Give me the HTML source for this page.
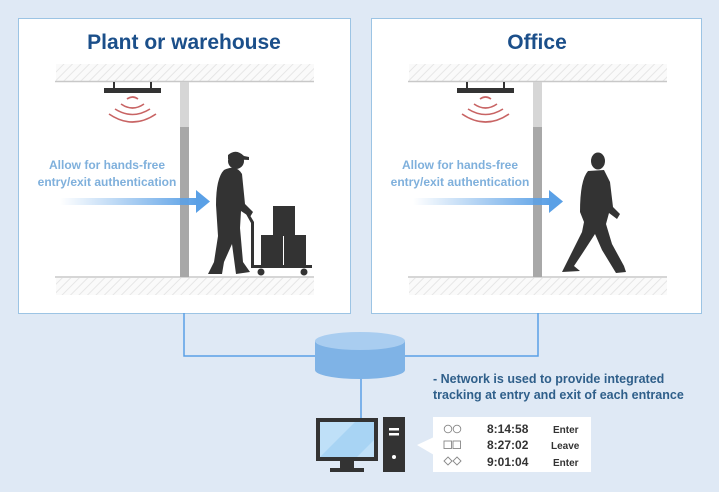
<!DOCTYPE html>
<html><head><meta charset="utf-8"><style>
body{margin:0;background:#dfe9f5;}
svg{display:block}
text{font-family:"Liberation Sans",sans-serif;font-weight:bold}
</style></head><body>
<svg width="719" height="492" viewBox="0 0 719 492" xmlns="http://www.w3.org/2000/svg">
<defs>
<pattern id="h" width="6" height="6" patternUnits="userSpaceOnUse" patternTransform="rotate(45)">
<rect width="6" height="6" fill="#fafafa"/><line x1="0" y1="0" x2="0" y2="6" stroke="#e6e6e6" stroke-width="2"/></pattern>
<linearGradient id="ag" x1="0" x2="1"><stop offset="0" stop-color="#5aa0e6" stop-opacity="0"/><stop offset="1" stop-color="#5aa0e6"/></linearGradient>
<g id="scene">
<rect x="56" y="64" width="258" height="17" fill="url(#h)"/>
<line x1="55" y1="81.5" x2="314" y2="81.5" stroke="#c8c8c8" stroke-width="1.5"/>
<rect x="56" y="278" width="258" height="17" fill="url(#h)"/>
<line x1="55" y1="277" x2="314" y2="277" stroke="#c8c8c8" stroke-width="1.5"/>
<rect x="113" y="82" width="2" height="8" fill="#333"/><rect x="150" y="82" width="2" height="8" fill="#333"/>
<rect x="104" y="88" width="57" height="5" fill="#333"/>
<g fill="none" stroke="#c86464" stroke-width="1.6">
<path d="M127 99 Q132.5 95 138 99"/><path d="M121 104 Q132.5 112 144 104"/><path d="M115 109 Q132.5 120 150 109"/><path d="M109 114 Q132.5 130 156 114"/>
</g>
<rect x="180" y="82" width="9" height="45" fill="#d6d6d6"/>
<rect x="180" y="127" width="9" height="150" fill="#a8a8a8"/>
<rect x="60" y="198" width="138" height="7" fill="url(#ag)"/>
<path d="M196 190 L210 201.5 L196 213 Z" fill="#5aa0e6"/>
<text x="107" y="169" font-size="12" fill="#7fb0dc" text-anchor="middle">Allow for hands-free</text>
<text x="107" y="186" font-size="12" fill="#7fb0dc" text-anchor="middle">entry/exit authentication</text>
</g>
</defs>
<rect x="18.5" y="18.5" width="332" height="295" fill="#fff" stroke="#9cc4e4"/>
<rect x="371.5" y="18.5" width="330" height="295" fill="#fff" stroke="#9cc4e4"/>
<text x="184" y="49" font-size="21" fill="#1b4f8a" text-anchor="middle">Plant or warehouse</text>
<text x="537" y="49" font-size="21" fill="#1b4f8a" text-anchor="middle">Office</text>
<use href="#scene"/>
<use href="#scene" transform="translate(353,0)"/>
<!-- worker -->
<g fill="#333">
<circle cx="236" cy="161" r="8"/><path d="M228 155 Q236 148 244 156 L249 157 L249 160 L228 159Z"/>
<path d="M224 170 Q236 164 242 174 L245 204 L253 212 L250 217 L241 211 L240 228 L243 262 L250 272 L236 274 L232 244 L224 262 L222 274 L208 274 L214 262 L218 236 L216 205 Q216 178 224 170Z"/>
<rect x="273" y="206" width="22" height="30"/><rect x="261" y="235" width="22" height="30"/><rect x="284" y="235" width="22" height="30"/>
<path d="M248 212 L254 222 L254 265 L312 265 L312 268 L251 268 L251 223 L246 214Z"/>
<circle cx="261" cy="272" r="3.5"/><circle cx="304" cy="272" r="3.5"/>
</g>
<!-- walking man -->
<g fill="#333">
<ellipse cx="598" cy="161" rx="7" ry="8.5"/>
<path d="M588 171 L604 170 L610 182 L613 207 L620 214 L617 219 L609 213 L606 224 L612 244 L624 266 L626 272 L616 273 L602 250 L595 234 L582 254 L574 266 L580 271 L562 272 L568 260 L582 232 L584 222 L580 212 Q580 180 588 171Z"/>
</g>
<!-- connectors -->
<g fill="none" stroke="#5aa0e6" stroke-width="1.5">
<path d="M184 313 V356 H320"/><path d="M538 313 V356 H400"/><path d="M361 375 V418"/>
</g>
<path d="M315 341 V370 A45 9 0 0 0 405 370 V341Z" fill="#7fb3e6"/>
<ellipse cx="360" cy="341" rx="45" ry="9" fill="#a9cdf0"/>
<!-- computer -->
<rect x="316" y="418" width="62" height="43" fill="#333"/>
<rect x="320" y="422" width="54" height="35" fill="#bfe0f8"/>
<path d="M320 457 L355 422 L374 422 L374 440 L357 457Z" fill="#a8d4f4"/>
<rect x="340" y="461" width="14" height="7" fill="#333"/><rect x="330" y="468" width="34" height="4" fill="#333"/>
<rect x="383" y="417" width="22" height="55" fill="#333"/>
<rect x="389" y="428" width="10" height="2.5" fill="#fff"/><rect x="389" y="433" width="10" height="2.5" fill="#fff"/>
<circle cx="394" cy="457" r="2" fill="#fff"/>
<text x="433" y="383" font-size="12.5" fill="#2f5f8a">- Network is used to provide integrated</text>
<text x="433" y="399" font-size="12.5" fill="#2f5f8a">tracking at entry and exit of each entrance</text>
<path d="M417 445 L434 437 L434 455Z" fill="#fff"/>
<rect x="433" y="417" width="158" height="55" fill="#fff"/>
<g fill="none" stroke="#888" stroke-width="0.9">
<circle cx="448" cy="429" r="3.8"/><circle cx="457" cy="429" r="3.8"/>
<rect x="444" y="441" width="7.5" height="7.5"/><rect x="453" y="441" width="7.5" height="7.5"/>
<path d="M448 457 L452 461 L448 465 L444 461Z"/><path d="M457 457 L461 461 L457 465 L453 461Z"/>
</g>
<g font-size="12" fill="#333" style="font-weight:normal">
<text x="487" y="433">8:14:58</text><text x="487" y="449">8:27:02</text><text x="487" y="466">9:01:04</text>
</g>
<g font-size="10" fill="#333">
<text x="553" y="433">Enter</text><text x="551" y="449">Leave</text><text x="553" y="466">Enter</text>
</g>
</svg>
</body></html>
